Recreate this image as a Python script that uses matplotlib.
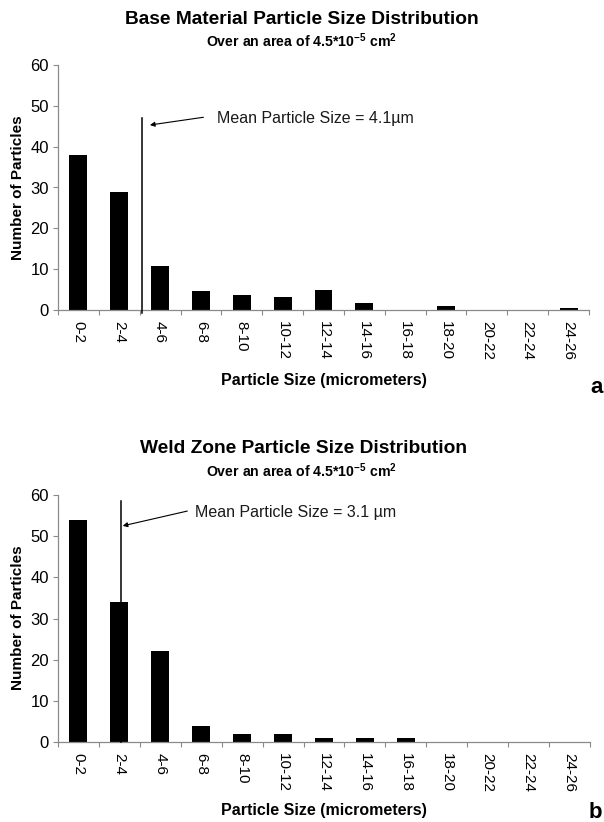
import matplotlib
matplotlib.use('Agg')
import matplotlib.pyplot as plt
from matplotlib.ticker import FixedLocator

# ---- data ----
categories = ['0-2', '2-4', '4-6', '6-8', '8-10', '10-12', '12-14',
              '14-16', '16-18', '18-20', '20-22', '22-24', '24-26']
base_counts = [38, 29, 10.7, 4.6, 3.6, 3.1, 5, 1.6, 0, 1, 0, 0, 0.4]
weld_counts = [54, 34, 22, 4, 2, 2, 1, 1, 1, 0, 0, 0, 0]
base_mean_um = 4.1
weld_mean_um = 3.1
bin_width_um = 2
y_ticks = [0, 10, 20, 30, 40, 50, 60]

plt.rcParams['font.family'] = ['Liberation Sans', 'DejaVu Sans']
plt.rcParams['mathtext.fontset'] = 'custom'
plt.rcParams['mathtext.bf'] = 'Liberation Sans:bold'
plt.rcParams['mathtext.rm'] = 'Liberation Sans'
plt.rcParams['mathtext.default'] = 'bf'

W, H = 604, 822
fig = plt.figure(figsize=(W / 100, H / 100), dpi=100)

SPINE = '#8a8a8a'


def fy(px):
    return 1 - px / H


def draw_panel(ax, counts, mean_um, line_top, line_bottom, tail, head, text_xy, label):
    x = list(range(len(categories)))
    ax.bar(x, counts, width=0.44, color='black', zorder=2)
    ax.set_xlim(-0.5, len(categories) - 0.5)
    ax.set_ylim(0, 60)
    ax.set_yticks(y_ticks)
    ax.set_xticks(x)
    ax.set_xticklabels(categories, rotation=270, fontsize=11)
    ax.xaxis.set_minor_locator(FixedLocator([i - 0.5 for i in range(len(categories) + 1)]))
    ax.tick_params(axis='x', which='major', length=0, pad=8)
    ax.tick_params(axis='x', which='minor', length=3.5, color=SPINE, width=0.8)
    ax.tick_params(axis='y', which='major', length=3.5, color=SPINE, width=0.8,
                   labelsize=12, pad=3)
    for s in ['top', 'right']:
        ax.spines[s].set_visible(False)
    for s in ['left', 'bottom']:
        ax.spines[s].set_color(SPINE)
        ax.spines[s].set_linewidth(0.9)
    # mean line
    xm = (mean_um - bin_width_um / 2) / bin_width_um
    ax.plot([xm, xm], [line_bottom, line_top], color='black', lw=1.1,
            clip_on=False, zorder=3)
    ax.annotate('', xy=head, xytext=tail,
                arrowprops=dict(arrowstyle='-|>', lw=0.8, color='black',
                                mutation_scale=7, shrinkA=0, shrinkB=0))
    ax.text(text_xy[0], text_xy[1], label, fontsize=11.5, ha='left', va='center',
            color='#1a1a1a')


# top panel
ax1 = fig.add_axes([58 / W, fy(310), 531 / W, 245 / H])
draw_panel(ax1, base_counts, base_mean_um, 47.0, -0.7,
           (3.06, 47.2), (1.75, 45.3), (3.40, 46.9),
           'Mean Particle Size = 4.1µm')

# bottom panel
ax2 = fig.add_axes([58 / W, fy(742), 532 / W, 247 / H])
draw_panel(ax2, weld_counts, weld_mean_um, 58.6, 0,
           (2.66, 56.1), (1.08, 52.5), (2.84, 55.8),
           'Mean Particle Size = 3.1 µm')

# titles
fig.text(302 / W, fy(20), 'Base Material Particle Size Distribution',
         ha='center', va='center', fontsize=13.8, fontweight='bold')
fig.text(302 / W, fy(41), r'Over an area of 4.5*10$^{-5}$ cm$^{2}$',
         ha='center', va='center', fontsize=10.2, fontweight='bold')
fig.text(304 / W, fy(448), 'Weld Zone Particle Size Distribution',
         ha='center', va='center', fontsize=13.8, fontweight='bold')
fig.text(302 / W, fy(471), r'Over an area of 4.5*10$^{-5}$ cm$^{2}$',
         ha='center', va='center', fontsize=10.2, fontweight='bold')

# axis labels
for ax, ylab_c, xlab_y in [(ax1, 187.5, 380), (ax2, 618, 810)]:
    fig.text(18 / W, fy(ylab_c), 'Number of Particles', rotation=90,
             ha='center', va='center', fontsize=11, fontweight='bold')
    fig.text(324 / W, fy(xlab_y), 'Particle Size (micrometers)',
             ha='center', va='center', fontsize=11.5, fontweight='bold')

fig.text(603 / W, fy(393), 'a', ha='right', va='baseline', fontsize=16, fontweight='bold')
fig.text(602 / W, fy(818), 'b', ha='right', va='baseline', fontsize=16, fontweight='bold')

fig.savefig('out.png', dpi=100)
